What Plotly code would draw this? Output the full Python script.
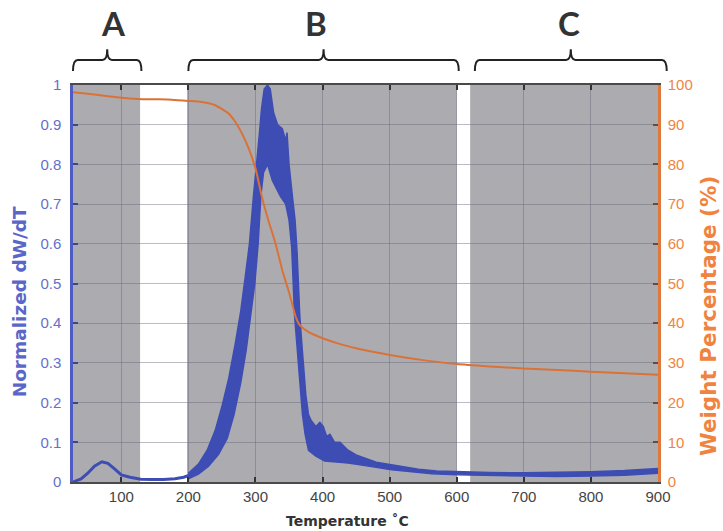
import plotly.graph_objects as go

# ---------------- data ----------------
# Region A: thin derivative curve (Temperature, normalized dW/dT)
dtg_low_T = [28, 40, 50, 60, 71, 80, 90, 100, 113, 129, 145, 163, 180, 193, 203]
dtg_low_v = [0.0, 0.008, 0.022, 0.04, 0.051, 0.047, 0.033, 0.018, 0.012, 0.007, 0.006, 0.006, 0.008, 0.012, 0.018]

# Noisy part of the derivative curve: outer (upper) envelope, left to right
band_upper_T = [200, 215, 228, 240, 250, 260, 270, 278, 285, 291, 297, 302, 306, 309, 313, 318,
                322, 327, 333, 340, 345, 347, 350, 355, 359, 362, 364, 366, 369, 372, 375, 379,
                383, 390, 396, 401, 406, 411, 418, 426, 438, 450, 463, 480, 498, 520, 543, 570,
                600, 650, 700, 750, 800, 850, 900]
band_upper_v = [0.022, 0.045, 0.08, 0.13, 0.19, 0.26, 0.35, 0.43, 0.52, 0.6, 0.72, 0.8, 0.88, 0.94, 0.99, 1.0,
                0.99, 0.93, 0.9, 0.89, 0.86, 0.88, 0.8, 0.72, 0.66, 0.58, 0.5, 0.42, 0.35, 0.28, 0.22, 0.17,
                0.155, 0.14, 0.15, 0.14, 0.115, 0.12, 0.1, 0.1, 0.08, 0.068, 0.06, 0.05, 0.045, 0.038, 0.032, 0.028,
                0.026, 0.024, 0.023, 0.024, 0.026, 0.029, 0.034]
# Noisy part: inner (lower) envelope, left to right (rises into the gap between the two lobes)
band_lower_T = [200, 215, 230, 245, 258, 268, 278, 286, 293, 299, 304, 308, 312, 318, 325, 337,
                345, 350, 354, 356, 358, 362, 366, 370, 374, 379, 390, 403, 438, 468, 503, 530,
                563, 600, 650, 700, 750, 800, 850, 900]
band_lower_v = [0.008, 0.02, 0.04, 0.07, 0.11, 0.17, 0.25, 0.33, 0.42, 0.5, 0.6, 0.72, 0.78, 0.8, 0.76, 0.72,
                0.7, 0.66, 0.59, 0.51, 0.425, 0.34, 0.257, 0.17, 0.12, 0.08, 0.065, 0.053, 0.048, 0.04, 0.031, 0.026,
                0.021, 0.018, 0.016, 0.015, 0.014, 0.015, 0.017, 0.022]

# Weight percentage curve
weight_T = [28, 50, 75, 100, 125, 150, 175, 200, 220, 240, 260, 275, 290, 300, 310, 320, 330, 340,
            350, 360, 366, 372, 380, 390, 400, 425, 450, 475, 500, 550, 600, 650, 700, 750, 800, 850, 900]
weight_pct = [98.2, 97.8, 97.3, 96.8, 96.5, 96.4, 96.3, 96.0, 95.7, 94.9, 92.8, 89.3, 84.0, 79.0, 71.5,
              65.5, 60.0, 53.3, 47.8, 41.6, 39.5, 38.6, 37.7, 36.9, 36.2, 34.8, 33.7, 32.8, 32.0, 30.7,
              29.7, 29.1, 28.6, 28.2, 27.8, 27.4, 27.0]

# Shaded temperature windows and bracketed regions
shaded_windows = [(28, 128), (198, 600), (620, 900)]
region_names = ["A", "B", "C"]
region_spans = [(28, 130), (200, 603), (627, 913)]
region_label_T = [88, 390, 767]

x_ticks = [100, 200, 300, 400, 500, 600, 700, 800, 900]
y_ticks = [0, 0.1, 0.2, 0.3, 0.4, 0.5, 0.6, 0.7, 0.8, 0.9, 1]
y_tick_text = ["0", "0.1", "0.2", "0.3", "0.4", "0.5", "0.6", "0.7", "0.8", "0.9", "1"]
y2_ticks = [0, 10, 20, 30, 40, 50, 60, 70, 80, 90, 100]

X_RANGE = [28, 900]

# ---------------- figure ----------------
BLUE = "#3e4db3"
BLUE_TXT = "#6470cc"
ORANGE = "#da7238"
ORANGE_TXT = "#f0843f"
FONT = "Liberation Sans, Arial, sans-serif"
TFONT = "DejaVu Sans, sans-serif"

fig = go.Figure()

band_T = band_upper_T + band_lower_T[::-1]
band_v = band_upper_v + band_lower_v[::-1]
fig.add_trace(go.Scatter(x=band_T, y=band_v, mode="lines", fill="toself",
                         fillcolor=BLUE, line=dict(color=BLUE, width=1.5),
                         hoverinfo="skip", showlegend=False))
fig.add_trace(go.Scatter(x=dtg_low_T, y=dtg_low_v, mode="lines",
                         line=dict(color=BLUE, width=3), showlegend=False))
fig.add_trace(go.Scatter(x=weight_T, y=weight_pct, mode="lines", yaxis="y2",
                         line=dict(color=ORANGE, width=2, shape="spline", smoothing=0.6), showlegend=False))

shapes = []
for a, b in shaded_windows:
    shapes.append(dict(type="rect", xref="x", yref="paper", x0=a, x1=b, y0=0, y1=1,
                       fillcolor="#acacb0", line=dict(width=0), layer="below"))

def to_paper(t):
    return (t - X_RANGE[0]) / (X_RANGE[1] - X_RANGE[0])

annotations = []
y_line, y_hook, y_peak = 1.063, 1.035, 1.09
d = 0.008
for name, (a, b), lt in zip(region_names, region_spans, region_label_T):
    x0, x1 = to_paper(a), to_paper(b)
    xm = (x0 + x1) / 2
    path = (f"M {x0},{y_hook} Q {x0},{y_line} {x0 + d},{y_line} "
            f"L {xm - d},{y_line} Q {xm},{y_line} {xm},{y_peak} "
            f"Q {xm},{y_line} {xm + d},{y_line} "
            f"L {x1 - d},{y_line} Q {x1},{y_line} {x1},{y_hook}")
    shapes.append(dict(type="path", xref="paper", yref="paper", path=path,
                       line=dict(color="#222222", width=2)))
    annotations.append(dict(xref="x", yref="paper", x=lt, y=1.155, text=f"<b>{name}</b>",
                            showarrow=False, font=dict(family="Lato, sans-serif", size=33, color="#333333"),
                            xanchor="center", yanchor="middle"))

# axis titles (placed like in the reference, off-centre)
annotations.append(dict(xref="paper", yref="paper", x=0.47, y=-0.098, text="<b>Temperature ˚C</b>",
                        showarrow=False, xanchor="center", yanchor="middle",
                        font=dict(size=14, color="#333", family=TFONT)))
annotations.append(dict(xref="paper", yref="paper", x=-0.092, y=0.453, text="<b>Normalized dW/dT</b>",
                        showarrow=False, textangle=-90, xanchor="center", yanchor="middle",
                        font=dict(size=18.5, color="#5a66c8", family=TFONT)))
annotations.append(dict(xref="paper", yref="paper", x=1.0855, y=0.418, text="<b>Weight Percentage (%)</b>",
                        showarrow=False, textangle=-90, xanchor="center", yanchor="middle",
                        font=dict(size=21.5, color=ORANGE_TXT, family=TFONT)))

grid = "rgba(105,105,125,0.45)"
fig.update_layout(
    width=723, height=531,
    margin=dict(l=73, r=65, t=85, b=49),
    paper_bgcolor="white", plot_bgcolor="white",
    shapes=shapes, annotations=annotations,
    font=dict(family=FONT),
    xaxis=dict(range=X_RANGE, tickvals=x_ticks, ticks="inside", ticklen=5, tickwidth=2, tickcolor="#333",
               showgrid=True, gridcolor=grid, gridwidth=1, zeroline=False,
               showline=True, linecolor="#4a4a4a", linewidth=2, mirror="ticks",
               tickfont=dict(size=15, color="#444", family=FONT)),
    yaxis=dict(range=[0, 1], tickvals=y_ticks, ticktext=y_tick_text, ticks="inside", ticklen=5, tickwidth=2,
               tickcolor="#3a4690", showgrid=True, gridcolor=grid, gridwidth=1, zeroline=False,
               showline=True, linecolor="#4f5bc4", linewidth=2.5, ticklabelstandoff=6,
               tickfont=dict(size=15, color=BLUE_TXT, family=FONT)),
    yaxis2=dict(range=[0, 100], tickvals=y2_ticks, overlaying="y", side="right", ticks="inside", ticklen=5,
                tickwidth=2, tickcolor="#6a4a40", showgrid=False, zeroline=False,
                showline=True, linecolor="#e07a3c", linewidth=2.5, ticklabelstandoff=4,
                tickfont=dict(size=15, color=ORANGE_TXT, family=FONT)),
)

fig.write_html("out.html")
